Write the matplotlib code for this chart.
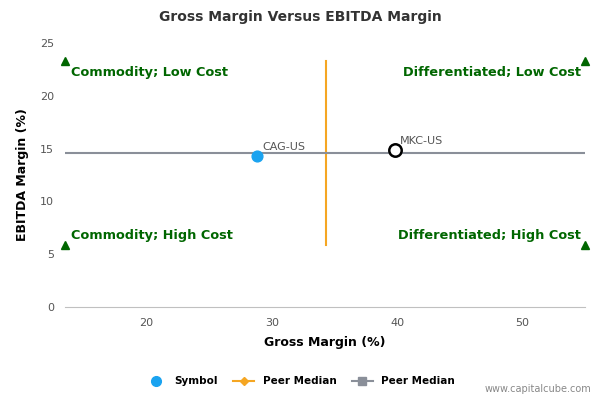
import matplotlib
matplotlib.use("Agg")
import matplotlib.pyplot as plt
from matplotlib.lines import Line2D

symbols = ["CAG-US", "MKC-US"]
gross = [28.8, 39.8]
ebitda = [14.3, 14.9]
median_x = 34.3
median_y = 14.6
xmin, xmax = 13.5, 55.0
ylo, yhi = 5.9, 23.3
quad_labels = ["Commodity; Low Cost", "Differentiated; Low Cost", "Commodity; High Cost", "Differentiated; High Cost"]

fig = plt.figure(figsize=(6, 4), dpi=100)
ax = fig.add_axes([65/600, 1-307/400, 520/600, 264/400])
ax.set_xlim(xmin, xmax)
ax.set_ylim(0, 25)

ax.plot([median_x, median_x], [ylo, yhi], color="#f5a623", lw=1.5, zorder=2)
ax.plot([xmin, xmax], [median_y, median_y], color="#8a8f99", lw=1.5, zorder=2)

ax.scatter([gross[0]], [ebitda[0]], s=60, color="#1aa3f0", zorder=3)
ax.scatter([gross[1]], [ebitda[1]], s=80, facecolor="white", edgecolor="black", lw=1.8, zorder=3)
for s, x, y in zip(symbols, gross, ebitda):
    ax.annotate(s, (x, y), xytext=(4, 4), textcoords="offset points", fontsize=8, color="#555555")

g = "#006600"
for x, y in [(xmin, yhi), (xmax, yhi), (xmin, ylo), (xmax, ylo)]:
    ax.plot([x], [y], marker="^", color=g, ms=6, clip_on=False, zorder=4)
fs = 9.3
ax.text(xmin + 0.5, 22.2, quad_labels[0], color=g, fontsize=fs, fontweight="bold", va="center", ha="left")
ax.text(xmax - 0.3, 22.2, quad_labels[1], color=g, fontsize=fs, fontweight="bold", va="center", ha="right")
ax.text(xmin + 0.5, 6.8, quad_labels[2], color=g, fontsize=fs, fontweight="bold", va="center", ha="left")
ax.text(xmax - 0.3, 6.8, quad_labels[3], color=g, fontsize=fs, fontweight="bold", va="center", ha="right")

ax.set_xticks([20, 30, 40, 50])
ax.set_yticks([0, 5, 10, 15, 20, 25])
ax.tick_params(labelsize=8, colors="#555555", length=0, pad=8)
for s in ["top", "right", "left"]:
    ax.spines[s].set_visible(False)
ax.spines["bottom"].set_color("#c0c0c0")
ax.set_xlabel("Gross Margin (%)", fontsize=9, fontweight="bold", labelpad=6)
ax.set_ylabel("EBITDA Margin (%)", fontsize=9, fontweight="bold", labelpad=8)
fig.suptitle("Gross Margin Versus EBITDA Margin", y=0.975, fontsize=10, fontweight="bold", color="#333333")

handles = [
    Line2D([], [], marker="o", color="#1aa3f0", ls="", ms=7),
    Line2D([], [], marker="D", color="#f5a623", ms=4, lw=1.5),
    Line2D([], [], marker="s", color="#8a8f99", ms=6, lw=1.5),
]
fig.legend(handles, ["Symbol", "Peer Median", "Peer Median"], loc="center", bbox_to_anchor=(0.5, 0.047),
           ncol=3, frameon=False, prop={"size": 7.5, "weight": "bold"}, handlelength=2, columnspacing=1.5)
fig.text(0.985, 0.02, "www.capitalcube.com", ha="right", fontsize=7, color="#888888")
fig.savefig("out.png", dpi=100)
